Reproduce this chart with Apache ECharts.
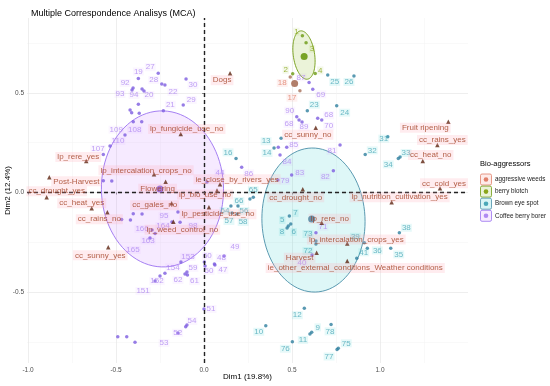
<!DOCTYPE html>
<html><head><meta charset="utf-8">
<script src="https://cdn.jsdelivr.net/npm/echarts@6/dist/echarts.min.js"></script>
<style>html,body{margin:0;padding:0;background:#fff}#c{width:550px;height:386px}</style>
</head><body><div id="c"></div>
<script>
// ---------------- data ----------------
const groupNames = ['aggressive weeds', 'berry blotch', 'Brown eye spot', 'Coffee berry borer'];

const weedsId = ['17', '18'];
const weedsX = [0.545, 0.490];
const weedsY = [0.510, 0.579];

const blotchId = ['1', '2', '3', '4'];
const blotchX = [0.559, 0.504, 0.580, 0.632];
const blotchY = [0.786, 0.595, 0.751, 0.597];

const eyeId = ['25','26','23','24','13','14','16','65','66','64','56','57','58','7','5','8','6','73','72','39','41','36','35','38','31','32','33','34','10','12','9','78','11','76','75','77'];
const eyeX = [0.703,0.852,0.587,0.754,0.438,0.398,0.182,0.280,0.261,0.153,0.193,0.159,0.188,0.485,0.479,0.472,0.493,0.636,0.636,0.911,0.868,0.928,1.061,1.110,1.044,0.916,1.114,1.104,0.351,0.570,0.612,0.722,0.602,0.502,0.763,0.756];
const eyeY = [0.589,0.584,0.410,0.435,0.272,0.223,0.171,-0.024,-0.033,-0.068,-0.068,-0.103,-0.108,-0.118,-0.168,-0.178,-0.158,-0.243,-0.258,-0.252,-0.330,-0.280,-0.280,-0.202,0.280,0.191,0.178,0.171,-0.668,-0.580,-0.701,-0.661,-0.709,-0.748,-0.781,-0.787];

const borerId = ['19','27','28','22','92','93','94','20','30','29','21','','','','','109','108','110','107','','','','','','','','95','98','164','166','163','165','44','153','154','152','151','59','62','61','60','50','48','47','49','51','54','52','53','','','','87','69','90','68','68','89','70','85','84','83','79','82','81','86','71','40',''];
const borerX = [-0.373,-0.260,-0.240,-0.222,-0.403,-0.409,-0.352,-0.341,-0.102,-0.118,-0.231,-0.373,-0.420,-0.411,-0.368,-0.402,-0.354,-0.449,-0.534,-0.572,-0.572,-0.524,-0.468,-0.418,-0.402,-0.352,-0.148,-0.136,-0.182,-0.295,-0.278,-0.307,0.017,-0.131,-0.222,-0.250,-0.278,-0.097,-0.108,-0.094,0.002,0.006,0.059,0.062,0.114,0.000,-0.097,-0.104,-0.148,-0.490,-0.439,-0.392,0.597,0.618,0.527,0.540,0.646,0.557,0.669,0.470,0.432,0.498,0.420,0.735,0.773,0.214,0.636,0.614,0.422];
const borerY = [0.572,0.598,0.544,0.539,0.524,0.514,0.519,0.509,0.569,0.439,0.410,0.442,0.414,0.400,0.397,0.355,0.355,0.288,0.233,0.191,0.059,0.058,-0.135,-0.138,-0.107,-0.108,-0.098,-0.149,-0.148,-0.188,-0.205,-0.228,0.053,-0.348,-0.405,-0.419,-0.444,-0.398,-0.409,-0.414,-0.348,-0.368,-0.358,-0.363,-0.318,-0.584,-0.664,-0.673,-0.704,-0.723,-0.723,-0.751,0.552,0.517,0.380,0.363,0.372,0.353,0.363,0.227,0.188,0.088,0.063,0.109,0.238,0.126,-0.202,-0.313,0.227];

// group means (big dots)
const meanX = [0.515, 0.569, 0.612, -0.250];
const meanY = [0.547, 0.682, -0.133, 0.018];

// confidence ellipses: group index, centre, semi-axis vectors
const ellGroup = [1, 2, 3];
const ellCX = [0.568, 0.622, -0.236];
const ellCY = [0.689, -0.138, 0.018];
const ellUX = [-0.020, -0.010, 0.006];
const ellUY = [0.121, 0.361, 0.391];
const ellVX = [0.060, 0.293, 0.347];
const ellVY = [0.008, 0.005, -0.010];

// variable categories
const varNames = ['Dogs','lp_fungicide_use_no','lp_rere_yes','Post-Harvest','cc_drought_yes','cc_heat_yes','cc_rains_no','lp_intercalation_crops_no','Flowering','ie_close_by_rivers_yes','lp_pesticide_use_no','lp_bio_use_no','cc_gales_no','lp_weed_control_no','cc_sunny_yes','cc_sunny_no','Fruit ripening','cc_rains_yes','cc_heat_no','cc_cold_yes','cc_drought_no','lp_nutrition_cultivation_yes','lp_rere_no','lp_intercalation_crops_yes','Harvest','ie_other_external_conditions_Weather conditions'];
const varX = [0.148,-0.132,-0.669,-0.879,-0.894,-0.638,-0.549,-0.284,-0.218,0.091,0.028,0.074,-0.184,-0.174,-0.544,0.635,1.388,1.326,1.243,1.341,0.561,1.066,0.669,0.814,0.640,0.814];
const varY = [0.598,0.293,0.158,0.076,-0.024,-0.079,-0.099,0.091,0.054,0.041,-0.074,0.010,-0.054,-0.146,-0.275,0.325,0.355,0.238,0.158,0.021,0.016,-0.049,-0.151,-0.255,-0.302,-0.343];

// axis ticks
const xMajor = [-1, -0.5, 0, 0.5, 1];
const xMinor = [-0.75, -0.25, 0.25, 0.75, 1.25];
const yMajor = [-0.5, 0, 0.5];
const yMinor = [-0.75, -0.25, 0.25, 0.75];
const xTickLabels = ['-1.0', '-0.5', '0.0', '0.5', '1.0'];
const yTickLabels = ['-0.5', '0.0', '0.5'];

// ---------------- styling (label shifts in px) ----------------
const weedsShift = [[-8,7],[-8,6]];
const blotchShift = [[-6,-4],[-7,-4],[6,6],[5,-3]];
const eyeShift = [[7,7],[-5,6],[7,-6],[8,7],[-15,3],[-7,5],[-8,-6],[0,-7],[-11,2],[-6,5],[6,5],[-3,8],[6,8],[6,-3],[-6,-6],[-5,4],[3,8],[-8,-7],[-8,7],[-9,-6],[7,-6],[10,2],[8,6],[7,-5],[-4,2],[7,-4],[6,-4],[-10,6],[-7,6],[-7,7],[6,-5],[-1,7],[-7,6],[-7,7],[8,-5],[-8,7]];
const borerShift = [[0,-7],[-8,-6],[-8,-4],[8,7],[-8,-5],[-12,4],[-8,6],[5,4],[7,6],[8,-5],[7,-6],[0,0],[0,0],[0,0],[0,0],[-17,8],[-7,8],[-7,6],[-12,3],[0,0],[0,0],[0,0],[0,0],[0,0],[0,0],[0,0],[-14,4],[13,4],[-9,4],[-10,-1],[-7,7],[-17,12],[13,-9],[7,-5],[8,-6],[-3,5],[-12,10],[6,-4],[-7,6],[7,6],[3,-6],[4,5],[7,-6],[8,5],[11,-9],[7,0],[5,-4],[-8,6],[-14,10],[0,0],[0,0],[0,0],[-8,-5],[8,5],[-7,-6],[-10,4],[11,-3],[2,5],[7,6],[7,-2],[7,7],[8,-2],[7,1],[-8,6],[-8,6],[7,6],[7,-6],[-10,8],[0,0]];
const varShift = [[-8,7],[6,-5],[-8,-4],[27,4],[10,-6],[-10,-5],[-8,7],[-8,-4],[-8,7],[17,-5],[9,7],[-12,4],[-17,2],[9,8],[-8,8],[-8,7],[-23,6],[5,-5],[8,-6],[4,-5],[-7,8],[8,-5],[8,-4],[9,-4],[-17,5],[8,7]];

const dotColors = ['#a8705a', '#6c9a12', '#2f7f9f', '#7d5ce0'];
const txtColors = ['#e0806a', '#8aa61a', '#4aa8b8', '#b08af2'];
const bgColors = ['rgba(248,118,109,0.13)', 'rgba(124,174,0,0.10)', 'rgba(0,191,196,0.12)', 'rgba(199,124,255,0.09)'];
const keyFill = ['rgba(248,118,109,0.15)', 'rgba(124,174,0,0.15)', 'rgba(0,191,196,0.15)', 'rgba(199,124,255,0.15)'];
const keyStroke = ['#e0806a', '#6f9a10', '#4a8fa8', '#9b72f0'];
const ellFill = ['', 'rgba(124,174,0,0.15)', 'rgba(0,191,196,0.13)', 'rgba(199,124,255,0.16)'];
const ellStroke = ['', '#6f9a10', '#4a8fa8', '#9b72f0'];
const FONT = 'Liberation Sans, Arial, sans-serif';

function pointSeries(g, ids, xs, ys, shifts) {
  return {
    type: 'scatter', name: groupNames[g], symbolSize: 3.5, z: 4, silent: true,
    itemStyle: { color: dotColors[g] },
    label: { show: true, position: 'inside', fontSize: 8, fontFamily: FONT, color: txtColors[g],
             backgroundColor: bgColors[g], padding: [0, 1] },
    data: ids.map((id, i) => ({
      value: [xs[i], ys[i]],
      label: { show: id !== '', formatter: id, offset: shifts[i] }
    }))
  };
}

function ellipseSeries(k) {
  const g = ellGroup[k];
  return {
    type: 'custom', z: 1, silent: true, clip: true,
    data: [[ellCX[k], ellCY[k], ellUX[k], ellUY[k], ellVX[k], ellVY[k]]],
    renderItem: function (params, api) {
      const cx = api.value(0), cy = api.value(1), ux = api.value(2), uy = api.value(3), vx = api.value(4), vy = api.value(5);
      const pts = [];
      for (let i = 0; i < 90; i++) {
        const t = i / 90 * Math.PI * 2;
        pts.push(api.coord([cx + ux * Math.cos(t) + vx * Math.sin(t), cy + uy * Math.cos(t) + vy * Math.sin(t)]));
      }
      return { type: 'polygon', shape: { points: pts }, style: { fill: ellFill[g], stroke: ellStroke[g], lineWidth: 0.9 } };
    }
  };
}

const series = [];
for (let k = 0; k < ellGroup.length; k++) series.push(ellipseSeries(k));
series.push(pointSeries(3, borerId, borerX, borerY, borerShift));
series.push(pointSeries(2, eyeId, eyeX, eyeY, eyeShift));
series.push(pointSeries(1, blotchId, blotchX, blotchY, blotchShift));
series.push(pointSeries(0, weedsId, weedsX, weedsY, weedsShift));
series.push({
  type: 'scatter', symbolSize: 7, z: 5, silent: true,
  data: meanX.map((x, i) => ({ value: [x, meanY[i]], itemStyle: { color: dotColors[i], opacity: 0.9 } }))
});
series.push({
  type: 'scatter', symbol: 'triangle', symbolSize: 4.5, z: 6, silent: true,
  itemStyle: { color: '#5e2410' },
  label: { show: true, position: 'inside', fontSize: 8, fontFamily: FONT, color: '#a03c1e',
           backgroundColor: 'rgba(255,170,185,0.28)', padding: [1, 2] },
  data: varNames.map((n, i) => ({ value: [varX[i], varY[i]], label: { formatter: n, offset: varShift[i] } })),
  markLine: {
    silent: true, symbol: ['none', 'none'], label: { show: false },
    lineStyle: { color: '#222', type: [4, 3], width: 1.4 },
    data: [{ xAxis: 0 }, { yAxis: 0 }]
  }
});

const XMIN = -1.0057, XMAX = 1.5, YMIN = -0.8546, YMAX = 0.8747;
const axisBase = { type: 'value', axisLine: { show: false } };

const option = {
  animation: false,
  backgroundColor: '#fff',
  title: { text: 'Multiple Correspondence Analisys (MCA)', left: 26, top: 4,
           textStyle: { fontSize: 9, fontWeight: 'normal', color: '#000', fontFamily: FONT } },
  grid: [{ left: 27, right: 82, top: 18, bottom: 23, containLabel: false, outerBoundsMode: 'none' }],
  xAxis: [
    Object.assign({}, axisBase, { min: XMIN, max: XMAX, z: 0,
      splitLine: { show: true, lineStyle: { color: '#f3f3f3', width: 0.5 } },
      axisTick: { show: false, customValues: xMinor }, axisLabel: { show: false } }),
    Object.assign({}, axisBase, { min: XMIN, max: XMAX, position: 'bottom',
      name: 'Dim1 (19.8%)', nameLocation: 'middle', nameGap: 10, nameMoveOverlap: false,
      nameTextStyle: { fontSize: 8, color: '#000', fontFamily: FONT, verticalAlign: 'top' },
      splitLine: { show: true, lineStyle: { color: '#e6e6e6', width: 0.7 } },
      axisTick: { show: true, customValues: xMajor, length: 2, lineStyle: { color: '#444', width: 0.6 } },
      axisLabel: { customValues: xMajor, fontSize: 6.5, color: '#4d4d4d', margin: 4, fontFamily: FONT,
                   formatter: v => xTickLabels[xMajor.indexOf(v)] } })
  ],
  yAxis: [
    Object.assign({}, axisBase, { min: YMIN, max: YMAX,
      splitLine: { show: true, lineStyle: { color: '#f3f3f3', width: 0.5 } },
      axisTick: { show: false, customValues: yMinor }, axisLabel: { show: false } }),
    Object.assign({}, axisBase, { min: YMIN, max: YMAX, position: 'left',
      name: 'Dim2 (12.4%)', nameLocation: 'middle', nameGap: 15, nameMoveOverlap: false,
      nameTextStyle: { fontSize: 8, color: '#000', fontFamily: FONT },
      splitLine: { show: true, lineStyle: { color: '#e6e6e6', width: 0.7 } },
      axisTick: { show: true, customValues: yMajor, length: 2, lineStyle: { color: '#444', width: 0.6 } },
      axisLabel: { customValues: yMajor, fontSize: 6.5, color: '#4d4d4d', margin: 3, fontFamily: FONT,
                   formatter: v => yTickLabels[yMajor.indexOf(v)] } })
  ],
  series: series.map(s => Object.assign({ xAxisIndex: 1, yAxisIndex: 1 }, s)),
  graphic: []
};

// legend drawn as graphic elements (text kept as real text)
const legendTop = 179.5, legendStep = 12.1, keyX = 480.5;
option.graphic.push({ type: 'text', left: 480, top: 160,
  style: { text: 'Bio-aggressors', fontSize: 7.5, fill: '#000', fontFamily: FONT } });
groupNames.forEach((n, i) => {
  const cy = legendTop + i * legendStep;
  option.graphic.push({ type: 'rect', shape: { x: keyX, y: cy - 5.5, width: 11, height: 11, r: 1.5 },
    style: { fill: keyFill[i], stroke: keyStroke[i], lineWidth: 0.8 } });
  option.graphic.push({ type: 'circle', shape: { cx: keyX + 5.5, cy: cy, r: 2.3 }, style: { fill: txtColors[i] } });
  option.graphic.push({ type: 'text', x: 495, y: cy, style: { text: n, fontSize: 6.3, fill: '#222', fontFamily: FONT, verticalAlign: 'middle' } });
});

const chart = echarts.init(document.getElementById('c'), null, { renderer: 'canvas' });
chart.setOption(option);
</script></body></html>
